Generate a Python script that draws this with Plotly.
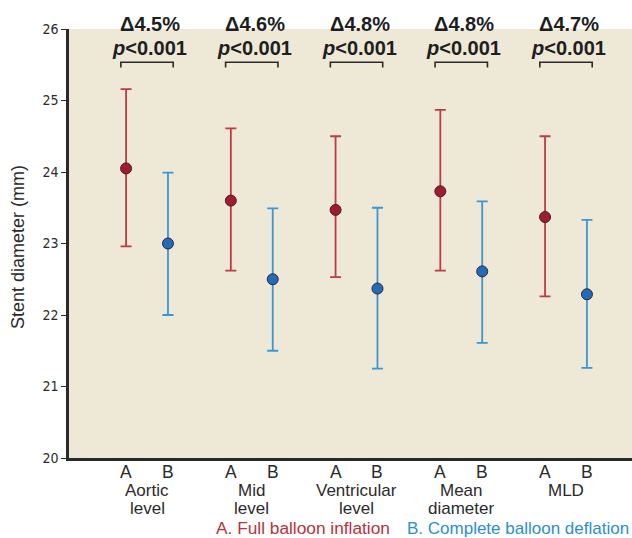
import plotly.graph_objects as go

# ---- data ----
groups = ["Aortic<br>level", "Mid<br>level", "Ventricular<br>level", "Mean<br>diameter", "MLD"]
mean_a = [24.05, 23.60, 23.47, 23.73, 23.37]
upper_a = [25.16, 24.61, 24.50, 24.87, 24.50]
lower_a = [22.96, 22.62, 22.53, 22.62, 22.26]
mean_b = [23.00, 22.50, 22.37, 22.61, 22.29]
upper_b = [23.99, 23.49, 23.50, 23.59, 23.33]
lower_b = [22.00, 21.50, 21.25, 21.61, 21.26]
delta_labels = ["Δ4.5%", "Δ4.6%", "Δ4.8%", "Δ4.8%", "Δ4.7%"]
p_labels = ["p<0.001"] * 5
y_ticks = [20, 21, 22, 23, 24, 25, 26]
legend_a = "A. Full balloon inflation"
legend_b = "B. Complete balloon deflation"

# ---- layout constants ----
W, H = 632, 538
ML, MR, MT, MB = 69, 0, 29, 80
PW, PH = W - ML - MR, H - MT - MB
OFF = 0.2  # half distance between A and B within group
XR = [-0.745, 4.63]

RED_M = "#A11C2C"
RED_L = "#BF3A43"
BLUE_M = "#1F6DB8"
BLUE_L = "#3A97D3"
OUT = "#3B1F35"
BG = "#EDE9D6"
TXT = "#2B2B2B"
FONT = "Liberation Sans, Arial, sans-serif"
NARROW = "Liberation Sans Narrow, Arial Narrow, DejaVu Sans Condensed, sans-serif"

xa = [i - OFF for i in range(len(groups))]
xb = [i + OFF for i in range(len(groups))]

fig = go.Figure()
fig.add_trace(go.Scatter(
    x=xa, y=mean_a, mode="markers",
    marker=dict(size=11, color=RED_M, line=dict(color=OUT, width=1)),
    error_y=dict(type="data", symmetric=False,
                 array=[u - m for u, m in zip(upper_a, mean_a)],
                 arrayminus=[m - l for m, l in zip(mean_a, lower_a)],
                 color=RED_L, thickness=1.8, width=5.5),
    showlegend=False, cliponaxis=False))
fig.add_trace(go.Scatter(
    x=xb, y=mean_b, mode="markers",
    marker=dict(size=11, color=BLUE_M, line=dict(color=OUT, width=1)),
    error_y=dict(type="data", symmetric=False,
                 array=[u - m for u, m in zip(upper_b, mean_b)],
                 arrayminus=[m - l for m, l in zip(mean_b, lower_b)],
                 color=BLUE_L, thickness=1.8, width=5.5),
    showlegend=False, cliponaxis=False))


def py(pix):
    """pixel y (from top) -> paper y"""
    return (MT + PH - pix) / PH


def px(pix):
    return (pix - ML) / PW


annotations = []
shapes = []
for i, g in enumerate(groups):
    # A / B labels
    for xx, t in ((xa[i], "A"), (xb[i], "B")):
        annotations.append(dict(x=xx, y=py(472), xref="x", yref="paper", text=t,
                                showarrow=False, font=dict(family=FONT, size=17.5, color=TXT),
                                xanchor="center", yanchor="middle"))
    for k, line in enumerate(g.split("<br>")):
        annotations.append(dict(x=i, y=py(490.5 + 17.5 * k), xref="x", yref="paper", text=line,
                                showarrow=False, font=dict(family=FONT, size=17, color=TXT),
                                xanchor="center", yanchor="middle"))
    # delta and p labels
    annotations.append(dict(x=i + 0.03, y=py(24), xref="x", yref="paper",
                            text="<b>" + delta_labels[i] + "</b>", showarrow=False,
                            font=dict(family=FONT, size=20, color="#1E1E1E"),
                            xanchor="center", yanchor="middle"))
    ptxt = p_labels[i].replace("<", "&lt;")
    annotations.append(dict(x=i + 0.025, y=py(48), xref="x", yref="paper",
                            text="<b><i>" + ptxt[0] + "</i>" + ptxt[1:] + "</b>", showarrow=False,
                            font=dict(family=FONT, size=20, color="#1E1E1E"),
                            xanchor="center", yanchor="middle"))
    # bracket
    x0, x1 = i - 0.25, i + 0.25
    y0, y1 = 25.535, 25.46
    shapes.append(dict(type="path", xref="x", yref="y",
                       path=f"M {x0},{y1} L {x0},{y0} L {x1},{y0} L {x1},{y1}",
                       line=dict(color="#2A2A2A", width=1.6)))

# y-axis title
annotations.append(dict(x=px(18), y=py(247), xref="paper", yref="paper",
                        text="Stent diameter (mm)", textangle=-90, showarrow=False,
                        font=dict(family=FONT, size=18, color=TXT),
                        xanchor="center", yanchor="middle"))
# legend texts
annotations.append(dict(x=px(214), y=py(528), xref="paper", yref="paper", text=legend_a,
                        showarrow=False, font=dict(family=FONT, size=17.3, color="#B8323B"),
                        xanchor="left", yanchor="middle"))
annotations.append(dict(x=px(631), y=py(528), xref="paper", yref="paper", text=legend_b,
                        showarrow=False, font=dict(family=FONT, size=17, color="#2C8ECF"),
                        xanchor="right", yanchor="middle"))

fig.update_layout(
    width=W, height=H,
    margin=dict(l=ML, r=MR, t=MT, b=MB, pad=0),
    paper_bgcolor="white", plot_bgcolor=BG,
    xaxis=dict(range=XR, showgrid=False, zeroline=False, showticklabels=False,
               ticks="", showline=True, linecolor="#2A2A2A", linewidth=2.5, fixedrange=True),
    yaxis=dict(range=[20, 26], tickvals=y_ticks, ticktext=[str(v) for v in y_ticks],
               showgrid=False, zeroline=False, showline=True, linecolor="#2A2A2A",
               linewidth=2.5, ticks="outside", ticklen=5, tickwidth=1.3, tickcolor="#2A2A2A",
               tickfont=dict(family=NARROW, size=14, color=TXT), fixedrange=True),
    annotations=annotations, shapes=shapes,
)

fig.write_html("out.html", config=dict(displayModeBar=False))
